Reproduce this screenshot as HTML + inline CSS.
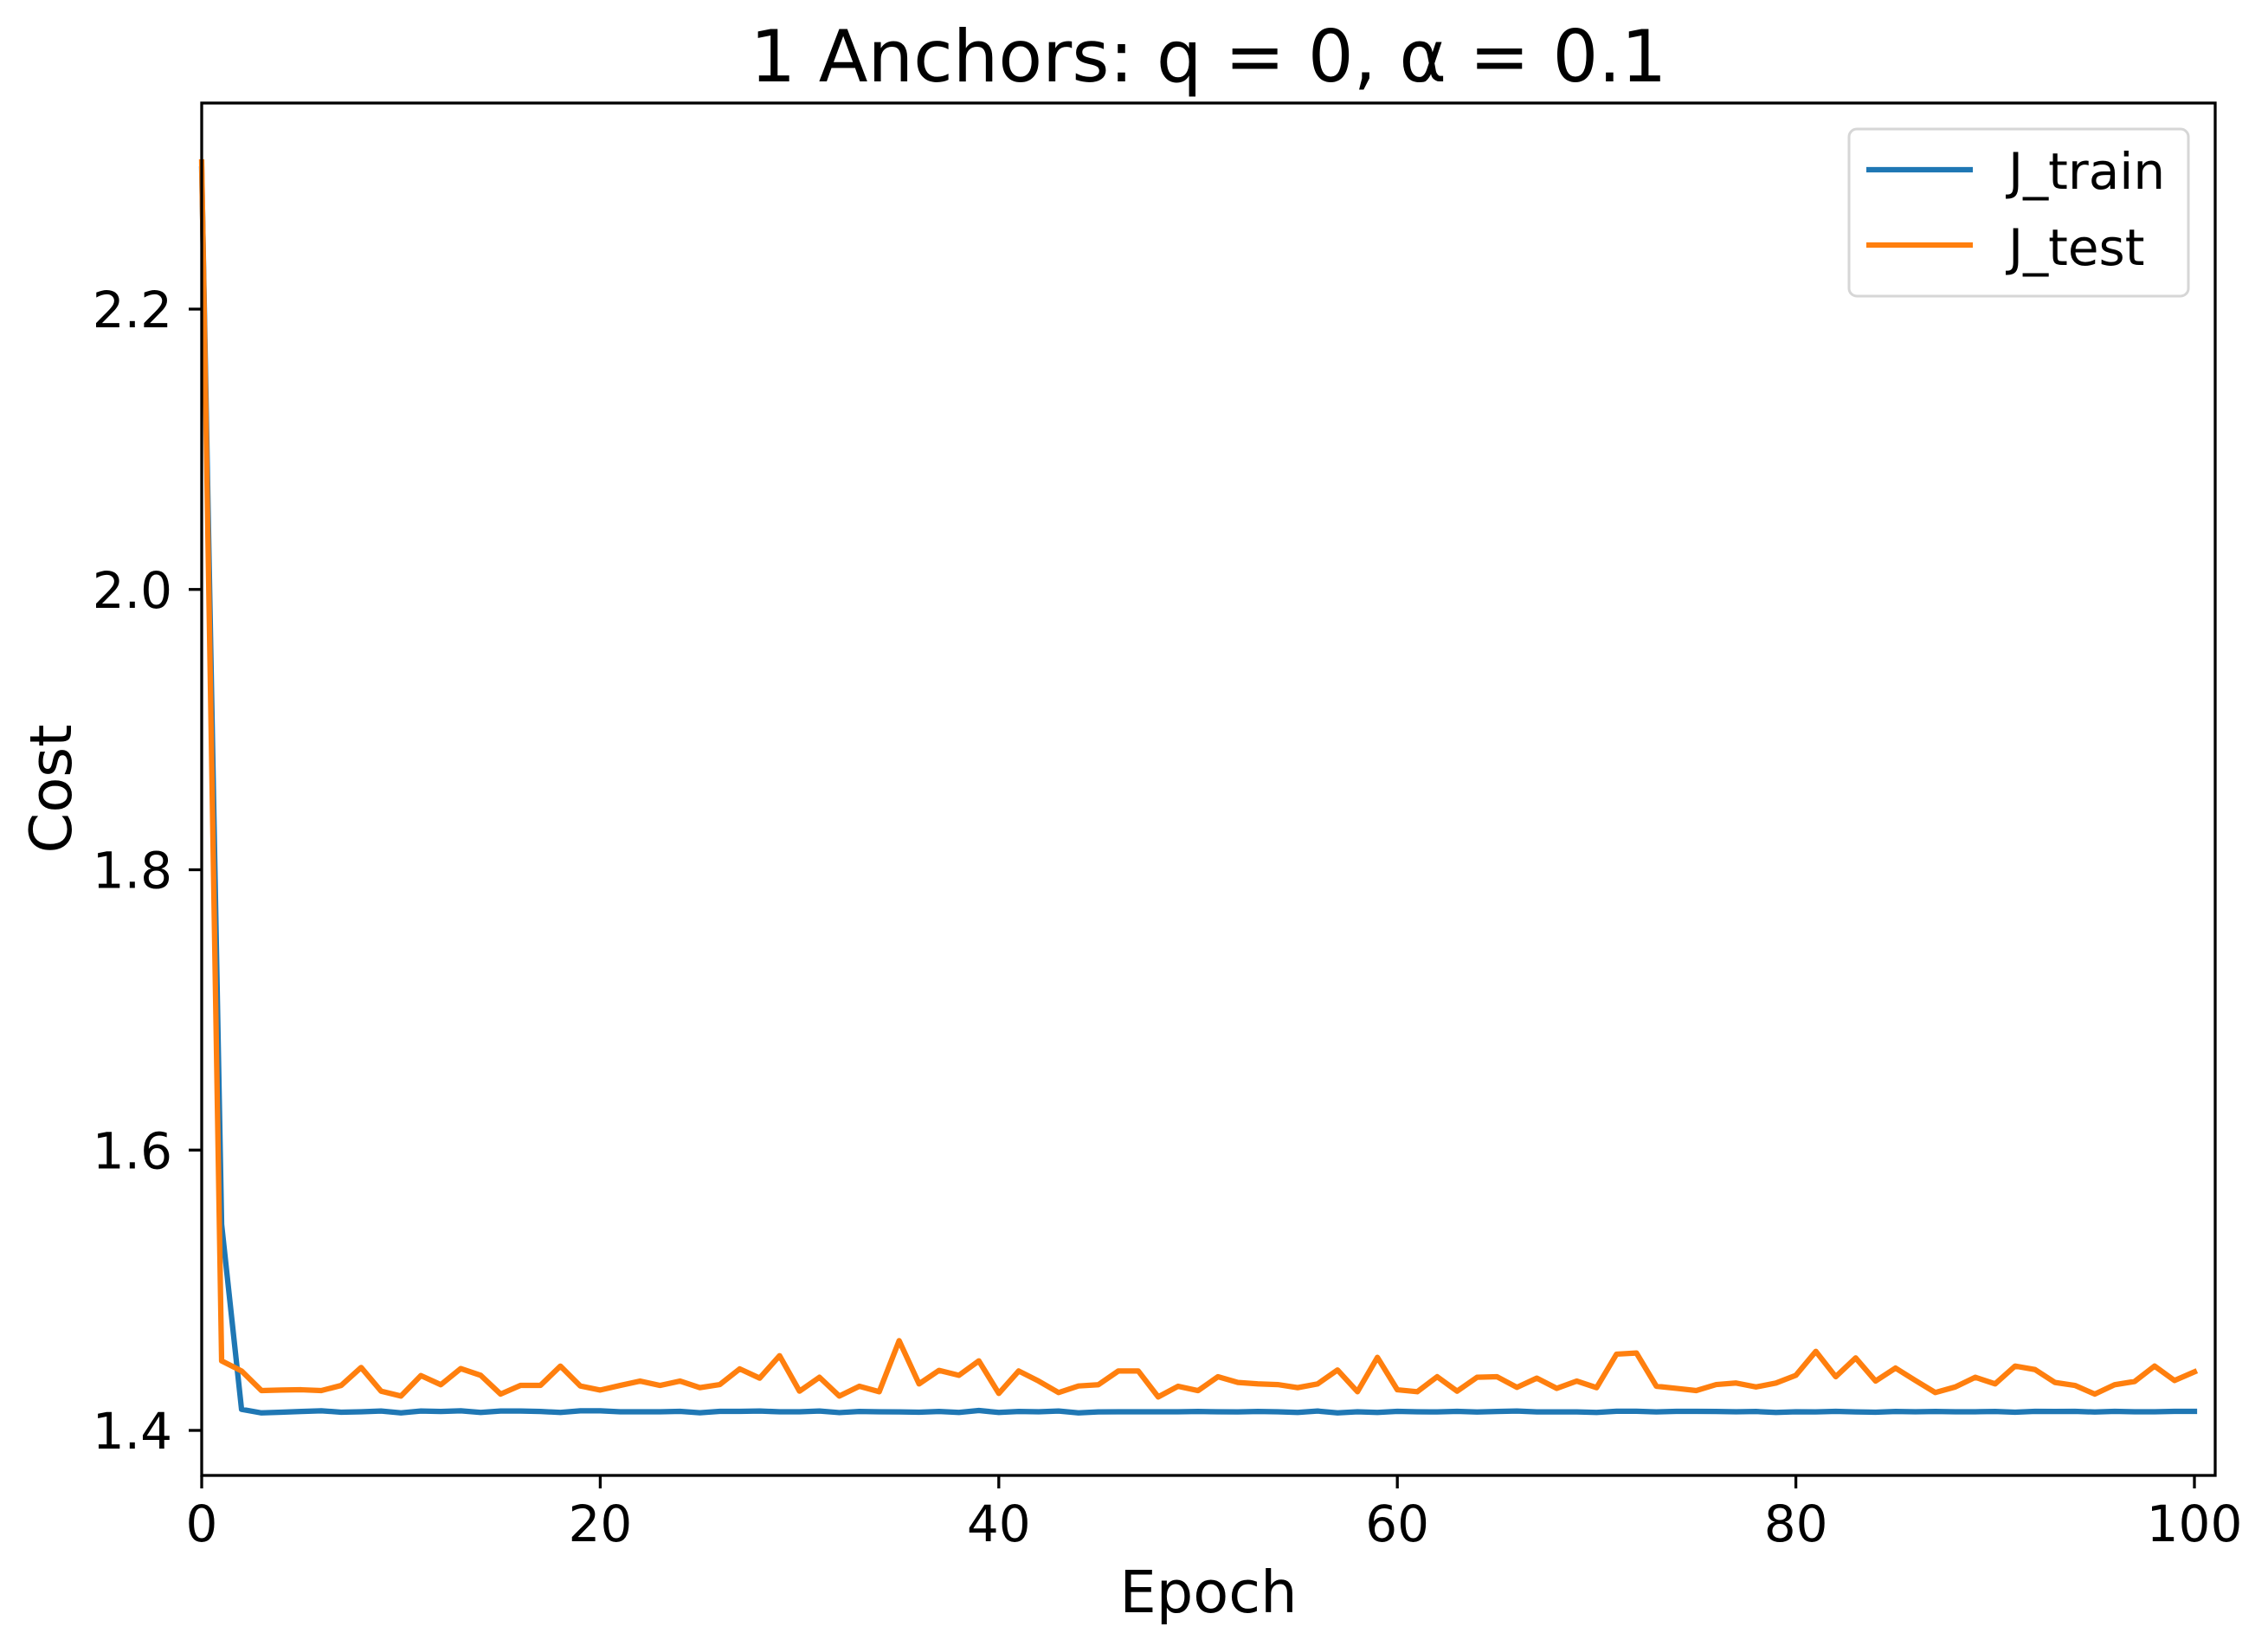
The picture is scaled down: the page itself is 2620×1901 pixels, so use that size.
<!DOCTYPE html>
<html><head><meta charset="utf-8"><style>
html,body{margin:0;padding:0;background:#fff;}
svg{display:block;font-family:"DejaVu Sans","Liberation Sans",sans-serif;}
</style></head><body>
<svg id="chart" width="2620" height="1901" viewBox="0 0 2620 1901">
<rect width="2620" height="1901" fill="#fff"/>
<g id="plot"></g>
<g id="axes"></g>
<text x="1396" y="94" font-size="83" text-anchor="middle">1 Anchors: q = 0, α = 0.1</text>
<text x="1396" y="1862" font-size="67" text-anchor="middle">Epoch</text>
<text transform="translate(82,911) rotate(-90)" font-size="67" text-anchor="middle">Cost</text>
<g>
<rect x="2136" y="149" width="392" height="193" rx="9" fill="#fff" fill-opacity="0.8" stroke="#d6d6d6" stroke-width="3"/>
<line x1="2156" y1="196" x2="2279" y2="196" stroke="#1f77b4" stroke-width="6.25"/>
<text x="2320" y="218" font-size="58">J_train</text>
<line x1="2156" y1="283" x2="2279" y2="283" stroke="#ff7f0e" stroke-width="6.25"/>
<text x="2320" y="306" font-size="58">J_test</text>
</g>
</svg>
<script>
const xTicks = [0, 20, 40, 60, 80, 100];
const yTicks = [1.4, 1.6, 1.8, 2.0, 2.2];
const yTickLabels = ["1.4", "1.6", "1.8", "2.0", "2.2"];
const jTrain = [2.30,1.547,1.415,1.4125,1.413,1.4135,1.414,1.413,1.4133,1.4138,1.4125,1.4138,1.4135,1.414,1.4128,1.4138,1.4138,1.4135,1.4128,1.414,1.414,1.4133,1.4133,1.4133,1.4136,1.4126,1.4136,1.4136,1.4138,1.4133,1.4133,1.4138,1.4127,1.4135,1.4133,1.4132,1.413,1.4135,1.4128,1.4142,1.4128,1.4135,1.4133,1.4138,1.4125,1.4132,1.4133,1.4133,1.4133,1.4133,1.4135,1.4133,1.4132,1.4135,1.4133,1.4128,1.4138,1.4125,1.4133,1.4128,1.4136,1.4133,1.4132,1.4136,1.4131,1.4135,1.4138,1.4132,1.4132,1.4132,1.4128,1.4137,1.4137,1.4132,1.4136,1.4136,1.4135,1.4133,1.4135,1.4128,1.4133,1.4132,1.4136,1.4132,1.413,1.4135,1.4133,1.4135,1.4133,1.4133,1.4135,1.413,1.4136,1.4135,1.4136,1.4131,1.4136,1.4133,1.4133,1.4136,1.4136];
const jTest = [2.305,1.4496,1.4424,1.4284,1.4288,1.429,1.4284,1.4321,1.4449,1.428,1.4245,1.4391,1.4326,1.4441,1.4393,1.4259,1.4321,1.4321,1.4459,1.4317,1.4288,1.4321,1.4352,1.4321,1.4352,1.4305,1.4327,1.4439,1.4373,1.4533,1.428,1.4379,1.4245,1.4315,1.4276,1.464,1.4332,1.4428,1.4393,1.4496,1.4264,1.4424,1.4352,1.427,1.4317,1.4326,1.4424,1.4424,1.4239,1.4315,1.4284,1.4383,1.4342,1.4332,1.4327,1.4305,1.4332,1.4431,1.4276,1.4521,1.429,1.4276,1.4383,1.428,1.4379,1.4383,1.4307,1.4373,1.43,1.4352,1.4305,1.4544,1.4552,1.4315,1.43,1.4284,1.4327,1.4338,1.431,1.4338,1.4393,1.4564,1.4383,1.4517,1.4352,1.4445,1.4356,1.427,1.431,1.4379,1.4332,1.4459,1.4434,1.4342,1.4321,1.4259,1.4326,1.4349,1.4459,1.4356,1.4418];

const NS = "http://www.w3.org/2000/svg";
const L = 233, R = 2559, T = 119, B = 1704;
const xMin = 0, xMax = (R - L) / 23.02;
const yMin = 1.4 - (B - 1652) / 1618.75, yMax = 2.2 + (357 - T) / 1618.75;
function xs(v){ return L + (v - xMin) / (xMax - xMin) * (R - L); }
function ys(v){ return B - (v - yMin) / (yMax - yMin) * (B - T); }
function mk(tag, attrs){ const e = document.createElementNS(NS, tag); for (const k in attrs) e.setAttribute(k, attrs[k]); return e; }

const plot = document.getElementById('plot');
const axes = document.getElementById('axes');

function drawSeries(vals, color, name){
  const pts = vals.map((v,i)=> xs(i).toFixed(2)+','+ys(v).toFixed(2)).join(' ');
  const pl = mk('polyline', {points: pts, fill: 'none', stroke: color, 'stroke-width': 6.25, 'stroke-linejoin': 'round', 'stroke-linecap': 'square'});
  
  
  plot.appendChild(pl);
}
drawSeries(jTrain, '#1f77b4', 'j-train-line');
drawSeries(jTest, '#ff7f0e', 'j-test-line');

const frame = mk('rect', {x: L, y: T, width: R - L, height: B - T, fill: 'none', stroke: '#000', 'stroke-width': 3.3});


axes.appendChild(frame);

xTicks.forEach(t => {
  const x = xs(t);
  const tk = mk('line', {x1: x, y1: B, x2: x, y2: B + 15, stroke: '#000', 'stroke-width': 3.3});
  
  
  axes.appendChild(tk);
  const tx = mk('text', {x: x, y: 1780, 'font-size': 58, 'text-anchor': 'middle'});
  tx.textContent = String(t);
  
  
  axes.appendChild(tx);
});
yTicks.forEach((t, i) => {
  const y = ys(t);
  const tk = mk('line', {x1: L - 15, y1: y, x2: L, y2: y, stroke: '#000', 'stroke-width': 3.3});
  
  
  axes.appendChild(tk);
  const tx = mk('text', {x: 199, y: y + 21, 'font-size': 58, 'text-anchor': 'end'});
  tx.textContent = yTickLabels[i];
  
  
  axes.appendChild(tx);
});
</script>
</body></html>
